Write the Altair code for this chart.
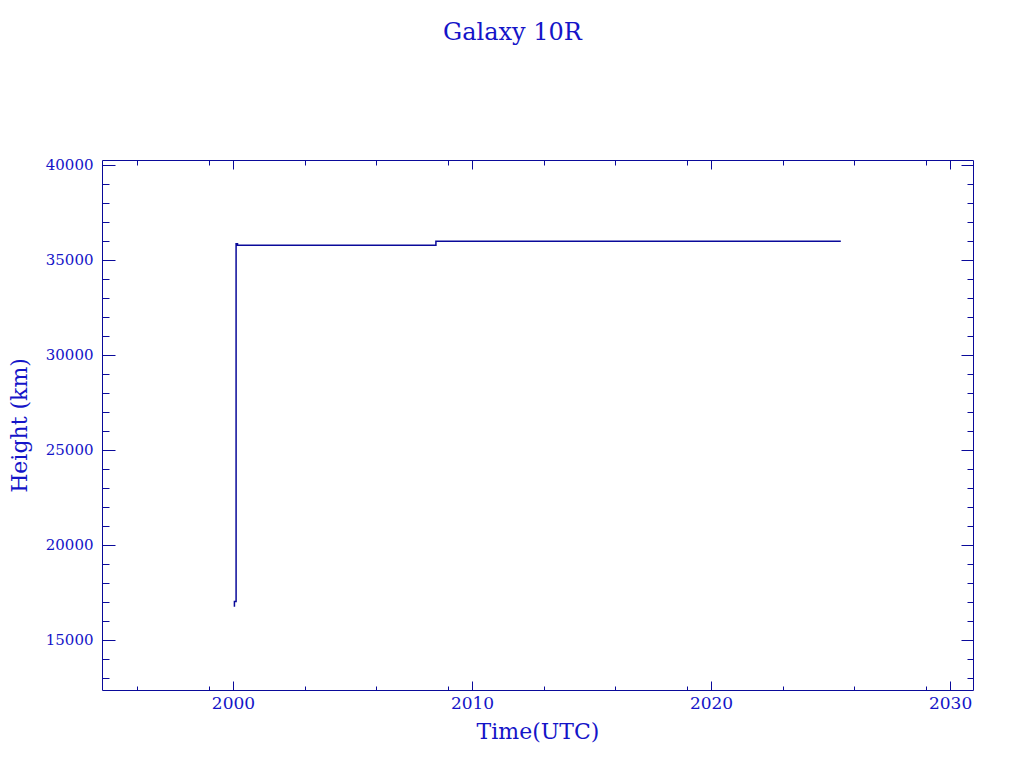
import altair as alt
import pandas as pd

# ---- data ----
years = [2000.06, 2000.06, 2000.13, 2000.13, 2000.19, 2000.19, 2008.49, 2008.49, 2025.43]
heights = [16750, 17020, 17020, 35860, 35860, 35780, 35780, 35985, 35985]

x_major = [2000, 2010, 2020, 2030]
x_minor = [1996, 1999, 2003, 2006, 2009, 2013, 2016, 2019, 2023, 2026, 2029]
y_major = [15000, 20000, 25000, 30000, 35000, 40000]
y_minor = [13000, 14000, 16000, 17000, 18000, 19000, 21000, 22000, 23000, 24000,
           26000, 27000, 28000, 29000, 31000, 32000, 33000, 34000, 36000, 37000,
           38000, 39000]

x_domain = [1994.52, 2030.96]
y_domain = [12368, 40263]

LINE = "#0A0A9A"
TEXT = "#1414C8"
FONT = "DejaVu Serif"

df = pd.DataFrame({"t": years, "h": heights, "i": list(range(len(years)))})

xs = alt.Scale(domain=x_domain, nice=False, zero=False)
ys = alt.Scale(domain=y_domain, nice=False, zero=False)

common = dict(grid=False, domain=False, tickColor=LINE, tickWidth=1)


def layer(xaxis, yaxis, opacity, xtitle=None, ytitle=None):
    return alt.Chart(df).mark_line(color=LINE, strokeWidth=1.5, opacity=opacity).encode(
        x=alt.X("t:Q", scale=xs, axis=xaxis, title=xtitle),
        y=alt.Y("h:Q", scale=ys, axis=yaxis, title=ytitle),
        order="i:Q",
    )


main = layer(
    alt.Axis(orient="bottom", values=x_major, offset=-9, tickSize=9, format="d",
             labelFont=FONT, labelFontSize=17, labelColor=TEXT, labelPadding=5,
             titleFont=FONT, titleFontSize=22, titleColor=TEXT, titleFontWeight="normal",
             titlePadding=10, **common),
    alt.Axis(orient="left", values=y_major, offset=-13, tickSize=13, format="d",
             labelFont=FONT, labelFontSize=15, labelColor=TEXT, labelPadding=9,
             titleFont=FONT, titleFontSize=22, titleColor=TEXT, titleFontWeight="normal",
             titlePadding=14, **common),
    1, "Time(UTC)", "Height (km)")

top_right = layer(
    alt.Axis(orient="top", values=x_major, offset=-9, tickSize=9, labels=False, **common),
    alt.Axis(orient="right", values=y_major, offset=-12, tickSize=12, labels=False, **common),
    0)

minor_bl = layer(
    alt.Axis(orient="bottom", values=x_minor, offset=-4, tickSize=4, labels=False, **common),
    alt.Axis(orient="left", values=y_minor, offset=-7, tickSize=7, labels=False, **common),
    0)

minor_tr = layer(
    alt.Axis(orient="top", values=x_minor, offset=-5, tickSize=5, labels=False, **common),
    alt.Axis(orient="right", values=y_minor, offset=-6, tickSize=6, labels=False, **common),
    0)

chart = alt.layer(main, top_right, minor_bl, minor_tr).resolve_axis(
    x="independent", y="independent"
).properties(
    width=871,
    height=530,
    autosize=alt.AutoSizeParams(type="none"),
    padding={"left": 94, "top": 152, "right": 40, "bottom": 60},
    title=alt.TitleParams("Galaxy 10R", font=FONT, fontSize=24, fontWeight="normal",
                          color=TEXT, offset=113, dx=-25),
).configure_view(stroke=LINE, strokeWidth=1)

chart.save("out.html", embed_options={"renderer": "svg", "actions": False})
